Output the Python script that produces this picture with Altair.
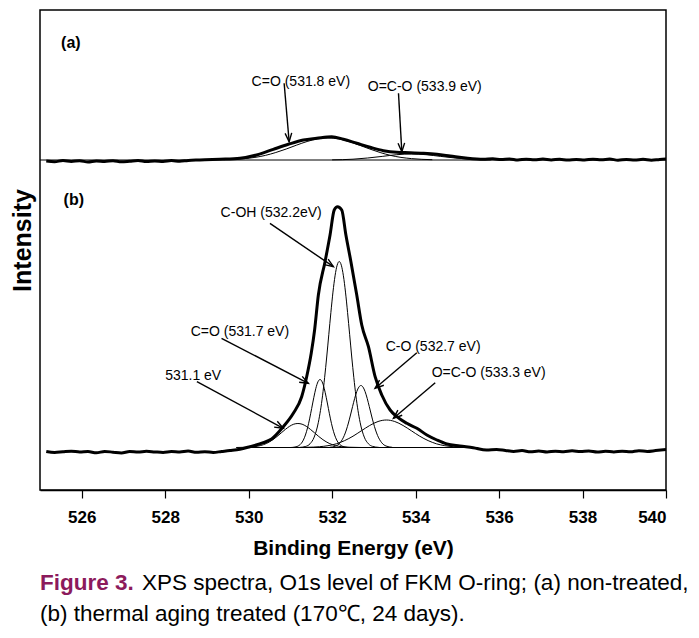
import math
import altair as alt
import pandas as pd

# ---------------- axes ----------------
X_DOMAIN = [525, 540]
Y_DOMAIN = [0, 480]
X_TICKS = [526, 528, 530, 532, 534, 536, 538, 540]

# ---------------- (a) non-treated (binding energy eV, intensity a.u.) ----------------
a_envelope = [
    (525.15, 329.0), (525.35, 328.3), (525.55, 329.4), (525.75, 328.6), (525.95, 329.2),
    (526.15, 328.0), (526.35, 329.0), (526.55, 328.5), (526.75, 329.3), (526.95, 328.2),
    (527.15, 328.8), (527.35, 329.5), (527.55, 328.4), (527.75, 329.1), (527.95, 328.6),
    (528.15, 329.4), (528.35, 328.7), (528.55, 329.6), (528.83, 330.0), (529.31, 330.7),
    (529.79, 331.7), (530.19, 335.0), (530.59, 340.7), (530.95, 345.7), (531.31, 350.0),
    (531.63, 351.7), (531.99, 353.3), (532.27, 350.7), (532.59, 346.7), (532.91, 342.7),
    (533.23, 339.3), (533.55, 337.7), (533.87, 337.3), (534.19, 336.7), (534.51, 335.7),
    (534.83, 334.0), (535.20, 332.0), (535.62, 330.7), (535.85, 331.2), (536.05, 330.4),
    (536.25, 331.1), (536.45, 330.0), (536.65, 330.8), (536.85, 330.2), (537.05, 331.0),
    (537.25, 330.1), (537.45, 330.7), (537.65, 329.9), (537.85, 330.6), (538.05, 330.0),
    (538.25, 330.8), (538.45, 330.2), (538.65, 330.9), (538.85, 329.8), (539.05, 330.5),
    (539.25, 330.0), (539.45, 330.7), (539.65, 329.8), (539.85, 330.6), (540.00, 330.9),
]
a_c_o = [  # C=O (531.8 eV) fitted component
    (529.4, 330.3), (529.9, 331.4), (530.15, 332.6), (530.4, 334.6), (530.65, 337.5),
    (530.9, 341.0), (531.15, 344.9), (531.4, 348.5), (531.65, 351.1), (531.9, 352.0),
    (532.15, 351.1), (532.4, 348.5), (532.65, 344.9), (532.9, 341.0), (533.15, 337.5),
    (533.4, 334.6), (533.65, 332.6), (533.9, 331.4), (534.4, 330.3),
]
a_o_c_o = [  # O=C-O (533.9 eV) fitted component
    (532.0, 330.15), (532.5, 330.8), (532.85, 332.0), (533.2, 333.6), (533.55, 335.3),
    (533.9, 336.0), (534.25, 335.3), (534.6, 333.6), (534.95, 332.0), (535.3, 330.8),
    (535.8, 330.15),
]
a_baseline = [(525.0, 330.0), (540.0, 330.0)]

# ---------------- (b) thermal aging treated ----------------
b_envelope = [
    (525.15, 38.5), (525.35, 37.5), (525.55, 38.2), (525.75, 38.8), (525.95, 38.0),
    (526.15, 38.4), (526.35, 37.2), (526.55, 38.6), (526.75, 37.8), (526.95, 37.0),
    (527.15, 38.5), (527.35, 37.9), (527.55, 38.7), (527.75, 38.1), (527.95, 37.6),
    (528.15, 38.4), (528.35, 38.0), (528.55, 38.9), (528.75, 37.7), (528.95, 38.3),
    (529.15, 37.6), (529.35, 38.5), (529.55, 39.4), (529.79, 40.7), (530.03, 43.3),
    (530.35, 47.3), (530.55, 51.0), (530.83, 63.3), (531.07, 76.7), (531.27, 93.3),
    (531.39, 113.3), (531.50, 137.0), (531.58, 160.0), (531.67, 195.0), (531.83, 228.3),
    (531.95, 255.0), (532.05, 280.0), (532.13, 283.3), (532.23, 280.0), (532.33, 255.0),
    (532.45, 228.3), (532.59, 195.0), (532.71, 165.0), (532.87, 143.3), (533.03, 113.3),
    (533.19, 95.0), (533.39, 80.0), (533.55, 73.3), (533.79, 66.7), (534.03, 61.7),
    (534.27, 55.0), (534.51, 50.0), (534.75, 46.0), (535.06, 44.0), (535.38, 42.3),
    (535.70, 40.0), (535.94, 40.5), (536.15, 39.5), (536.35, 38.6), (536.55, 39.4),
    (536.75, 38.2), (536.95, 39.0), (537.15, 38.0), (537.35, 38.8), (537.55, 38.3),
    (537.75, 39.2), (537.95, 38.4), (538.15, 38.9), (538.35, 37.9), (538.55, 38.7),
    (538.75, 38.1), (538.95, 38.8), (539.15, 38.2), (539.35, 39.3), (539.55, 38.6),
    (539.75, 39.4), (540.00, 40.5),
]
b_531_1 = [
    (529.7, 42.5), (529.98, 42.8), (530.28, 44.4), (530.43, 46.6), (530.58, 50.3),
    (530.68, 53.5), (530.78, 57.1), (530.88, 60.6), (530.98, 63.7), (531.08, 65.8),
    (531.18, 66.5), (531.28, 65.8), (531.38, 63.7), (531.48, 60.6), (531.58, 57.1),
    (531.68, 53.5), (531.78, 50.3), (531.93, 46.6), (532.08, 44.4), (532.38, 42.8),
    (532.7, 42.5),
]
b_c_eq_o = [  # C=O 531.7 eV
    (531.01, 42.5), (531.11, 43.0), (531.21, 44.6), (531.31, 49.9), (531.36, 55.0),
    (531.41, 62.0), (531.46, 71.1), (531.51, 81.6), (531.56, 92.3), (531.61, 101.7),
    (531.66, 108.2), (531.71, 110.5), (531.76, 108.2), (531.81, 101.7), (531.86, 92.3),
    (531.91, 81.6), (531.96, 71.1), (532.01, 62.0), (532.06, 55.0), (532.11, 49.9),
    (532.21, 44.6), (532.31, 43.0), (532.41, 42.5),
]
b_c_oh = [  # C-OH 532.2 eV
    (531.22, 42.6), (531.37, 43.6), (531.47, 46.2), (531.57, 52.9), (531.67, 67.7),
    (531.77, 94.2), (531.82, 112.3), (531.87, 133.0), (531.92, 155.3), (531.97, 177.5),
    (532.02, 197.9), (532.07, 214.2), (532.12, 224.8), (532.17, 228.5), (532.22, 224.8),
    (532.27, 214.2), (532.32, 197.9), (532.37, 177.5), (532.42, 155.3), (532.47, 133.0),
    (532.52, 112.3), (532.57, 94.2), (532.67, 67.7), (532.77, 52.9), (532.87, 46.2),
    (532.97, 43.6), (533.12, 42.6),
]
b_c_o = [  # C-O 532.7 eV
    (531.94, 42.7), (532.09, 44.0), (532.19, 47.2), (532.29, 54.4), (532.34, 60.0),
    (532.39, 67.0), (532.44, 75.0), (532.49, 83.5), (532.54, 91.6), (532.59, 98.4),
    (532.64, 102.9), (532.69, 104.5), (532.74, 102.9), (532.79, 98.4), (532.84, 91.6),
    (532.89, 83.5), (532.94, 75.0), (532.99, 67.0), (533.04, 60.0), (533.09, 54.4),
    (533.19, 47.2), (533.29, 44.0), (533.44, 42.7),
]
b_o_c_o = [  # O=C-O 533.3 eV
    (531.4, 42.7), (531.7, 43.3), (531.9, 44.3), (532.1, 46.2), (532.3, 49.4),
    (532.5, 53.8), (532.7, 59.2), (532.9, 64.5), (533.1, 68.5), (533.3, 70.0),
    (533.5, 68.5), (533.7, 64.5), (533.9, 59.2), (534.1, 53.8), (534.3, 49.4),
    (534.5, 46.2), (534.7, 44.3), (534.9, 43.3), (535.2, 42.7),
]
b_baseline = [(530.0, 42.5), (535.5, 42.5)]

# ---------------- annotations ----------------
labels = [
    ("C=O (531.8 eV)", 531.25, 408.0),
    ("O=C-O (533.9 eV)", 534.22, 402.7),
    ("C-OH (532.2eV)", 530.54, 277.5),
    ("C=O (531.7 eV)", 529.79, 158.3),
    ("531.1 eV", 528.67, 114.0),
    ("C-O (532.7 eV)", 534.42, 143.3),
    ("O=C-O (533.3 eV)", 535.75, 116.7),
]
arrows = [  # tail E, tail I, tip E, tip I
    (530.85, 406.7, 530.97, 348.3),
    (533.59, 396.7, 533.67, 338.3),
    (530.51, 266.7, 532.03, 223.3),
    (529.35, 151.7, 531.43, 106.7),
    (528.76, 108.3, 530.83, 61.7),
    (534.03, 137.3, 533.03, 101.7),
    (534.47, 107.3, 533.47, 71.7),
]
panel_tags = [("(a)", 525.74, 447.0), ("(b)", 525.81, 290.0)]
caption_head = "Figure 3."
caption_line1 = "XPS spectra, O1s level of FKM O-ring; (a) non-treated,"
caption_line2 = "(b) thermal aging treated (170℃, 24 days)."

# ---------------- build ----------------
W, H = 626, 480
FONT = "Liberation Sans, Arial, sans-serif"


def frame(name, pts):
    return pd.DataFrame({"E": [p[0] for p in pts], "I": [p[1] for p in pts], "series": name})


thick_df = pd.concat([frame("a", a_envelope), frame("b", b_envelope)])
thin_df = pd.concat([
    frame("a_base", a_baseline), frame("a_co", a_c_o), frame("a_oco", a_o_c_o),
    frame("b_base", b_baseline), frame("b_5311", b_531_1), frame("b_ceo", b_c_eq_o),
    frame("b_coh", b_c_oh), frame("b_co", b_c_o), frame("b_oco", b_o_c_o),
])

sx = W / (X_DOMAIN[1] - X_DOMAIN[0])
sy = H / (Y_DOMAIN[1] - Y_DOMAIN[0])
arrow_rows = []
for e1, i1, e2, i2 in arrows:
    dxp = (e2 - e1) * sx
    dyp = -(i2 - i1) * sy
    ang = math.degrees(math.atan2(dxp, -dyp)) % 360
    arrow_rows.append({"E1": e1, "I1": i1, "E2": e2, "I2": i2, "ang": ang})
arrow_df = pd.DataFrame(arrow_rows)
label_df = pd.DataFrame(labels, columns=["t", "E", "I"])
tag_df = pd.DataFrame(panel_tags, columns=["t", "E", "I"])

xscale = alt.Scale(domain=X_DOMAIN, nice=False, zero=False)
yscale = alt.Scale(domain=Y_DOMAIN, nice=False, zero=False)
xaxis = alt.Axis(values=X_TICKS, title="Binding Energy (eV)", grid=False,
                 domainColor="black", domainWidth=1.5, tickColor="black", tickWidth=1.2,
                 tickSize=8, labelFont=FONT, labelFontWeight="bold", labelFontSize=17,
                 labelColor="black", labelPadding=11, titleFont=FONT, titleFontWeight="bold",
                 titleFontSize=21, titleColor="black", titlePadding=12)
yaxis = alt.Axis(title="Intensity", labels=False, ticks=False, domain=False, grid=False,
                 titleFont=FONT, titleFontWeight="bold", titleFontSize=25, titleColor="black",
                 titleAngle=270, titleBaseline="middle", titleAlign="center",
                 titleX=-18, titleY=230)


def X(f):
    return alt.X(f, type="quantitative", scale=xscale, axis=xaxis)


def Y(f):
    return alt.Y(f, type="quantitative", scale=yscale, axis=yaxis)


thin = alt.Chart(thin_df).mark_line(color="black", strokeWidth=1, interpolate="monotone").encode(
    x=X("E"), y=Y("I"), detail="series:N")
thick = alt.Chart(thick_df).mark_line(color="black", strokeWidth=3, interpolate="monotone",
                                      strokeJoin="round").encode(
    x=X("E"), y=Y("I"), detail="series:N")
rules = alt.Chart(arrow_df).mark_rule(color="black", strokeWidth=1.4).encode(
    x=X("E1"), y=Y("I1"), x2="E2", y2="I2")
heads = alt.Chart(arrow_df).mark_point(shape="M-1,2.6L0,0L1,2.6", filled=False, color="black",
                                       strokeWidth=1.4, size=44, opacity=1).encode(
    x=X("E2"), y=Y("I2"), angle=alt.Angle("ang:Q", scale=None))
texts = alt.Chart(label_df).mark_text(font=FONT, fontSize=14, color="black", align="center",
                                      baseline="middle").encode(x=X("E"), y=Y("I"), text="t:N")
tags = alt.Chart(tag_df).mark_text(font=FONT, fontSize=16, fontWeight="bold", color="black",
                                   align="center", baseline="middle").encode(
    x=X("E"), y=Y("I"), text="t:N")

cap_a = alt.Chart(pd.DataFrame({"t": [caption_head]})).mark_text(
    font=FONT, fontSize=22.5, fontWeight="bold", color="#8C1A5C", align="left",
    baseline="middle").encode(text="t:N", x=alt.value(0), y=alt.value(573))
cap_b = alt.Chart(pd.DataFrame({"t": [caption_line1]})).mark_text(
    font=FONT, fontSize=22.5, color="black", align="left", baseline="middle").encode(
    text="t:N", x=alt.value(102), y=alt.value(573))
cap_c = alt.Chart(pd.DataFrame({"t": [caption_line2]})).mark_text(
    font=FONT, fontSize=22.5, color="black", align="left", baseline="middle").encode(
    text="t:N", x=alt.value(0), y=alt.value(604))

chart = alt.layer(thin, thick, rules, heads, texts, tags, cap_a, cap_b, cap_c).properties(
    width=W, height=H,
    padding={"left": 32, "top": 2, "right": 25, "bottom": 140},
    autosize=alt.AutoSizeParams(type="none"),
    background="white",
).configure_view(stroke="black", strokeWidth=1.5)

chart.save("out.html", embed_options={"renderer": "svg", "actions": False})
